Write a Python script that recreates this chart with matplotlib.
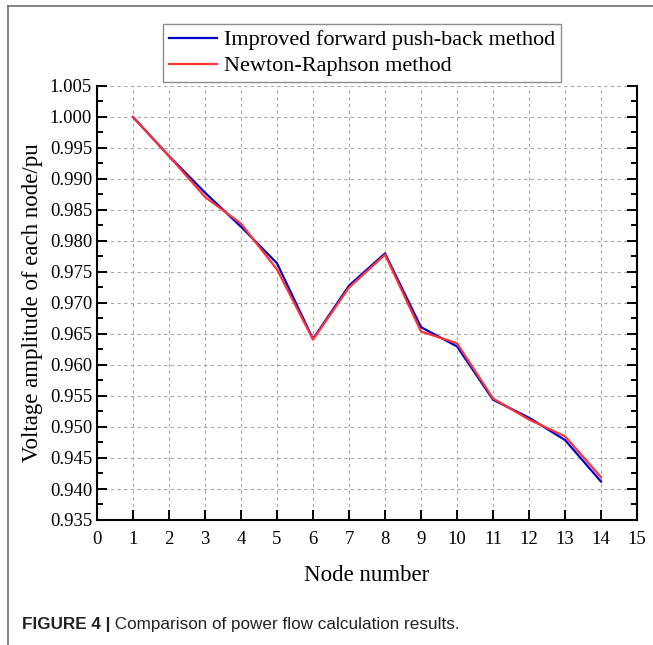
import numpy as np
import matplotlib.pyplot as plt
from matplotlib.lines import Line2D
from matplotlib.ticker import MultipleLocator, FormatStrFormatter

# node voltages (pu)
nodes = np.arange(1, 15)
improved_fbs = [1.0000, 0.9937, 0.9878, 0.9823, 0.9764, 0.9642, 0.9728,
                0.9780, 0.9661, 0.9630, 0.9544, 0.9515, 0.9479, 0.9412]
newton_raphson = [1.0000, 0.9937, 0.9871, 0.9828, 0.9754, 0.9641, 0.9725,
                  0.9778, 0.9654, 0.9635, 0.9546, 0.9512, 0.9485, 0.9419]
labels = ['Improved forward push-back method', 'Newton-Raphson method']
caption_bold = 'FIGURE 4 |'
caption_text = ' Comparison of power flow calculation results.'

plt.rcParams['font.family'] = ['Liberation Serif', 'DejaVu Serif']

fig = plt.figure(figsize=(6.53, 6.45), dpi=100)
W, H = 653, 645
ax = fig.add_axes([97 / W, 1 - 520 / H, 540 / W, 434 / H])

ax.plot(nodes, improved_fbs, color='#0000cc', lw=1.6, label=labels[0])
ax.plot(nodes, newton_raphson, color='#ff3333', lw=1.6, label=labels[1])

ax.set_xlim(0, 15)
ax.set_ylim(0.935, 1.005)
ax.xaxis.set_major_locator(MultipleLocator(1))
ax.yaxis.set_major_locator(MultipleLocator(0.005))
ax.yaxis.set_minor_locator(MultipleLocator(0.0025))
ax.yaxis.set_major_formatter(FormatStrFormatter('%.3f'))

ax.grid(True, which='major', ls=(0, (3, 3)), color='#a8a8a8', lw=0.8)
ax.set_axisbelow(True)

ax.spines['top'].set_visible(False)
for s in ['left', 'right', 'bottom']:
    ax.spines[s].set_linewidth(1.5)
ax.tick_params(which='both', direction='in', width=1.4, right=True, top=False,
               labelsize=13.5)
ax.tick_params(which='major', length=7)
ax.tick_params(which='minor', length=4)
ax.tick_params(axis='x', pad=8)

ax.set_xlabel('Node number', fontsize=16.5, labelpad=12)
ax.set_ylabel('Voltage amplitude of each node/pu', fontsize=16.5, labelpad=5)

leg = fig.legend(loc='lower left', bbox_to_anchor=(163 / W, 1 - 82 / H),
                 borderaxespad=0, fancybox=False, fontsize=16,
                 handlelength=2.2, handletextpad=0.3, borderpad=0.25,
                 labelspacing=0.25, edgecolor='#707070')
leg.get_frame().set_linewidth(1.0)

# page frame lines around the figure panel
fig.add_artist(Line2D([8 / W, 1], [1 - 6 / H, 1 - 6 / H], color='#707070', lw=1.2))
fig.add_artist(Line2D([8 / W, 8 / W], [0, 1 - 6 / H], color='#707070', lw=1.2))

cap = fig.text(22 / W, 1 - 624 / H, caption_bold, fontsize=12.3, fontweight='bold',
               family='Liberation Sans', va='center', color='#222222')
fig.canvas.draw()
bb = cap.get_window_extent()
fig.text(bb.x1 / W, 1 - 624 / H, caption_text, fontsize=12.3,
         family='Liberation Sans', va='center', color='#222222')

fig.savefig('out.png', dpi=100)
